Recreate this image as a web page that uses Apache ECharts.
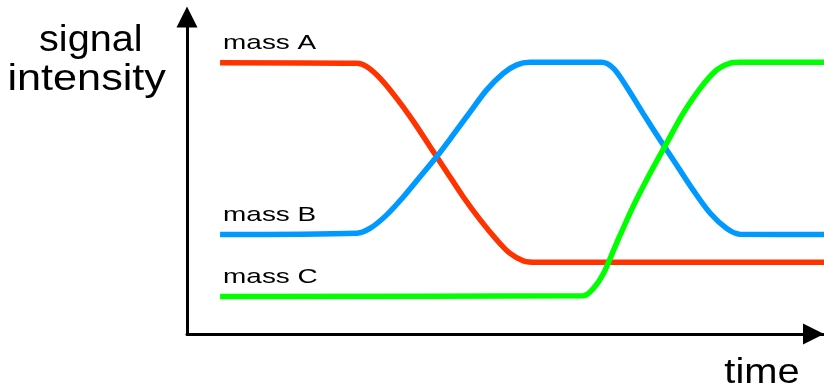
<!DOCTYPE html>
<html>
<head>
<meta charset="utf-8">
<title>signal intensity vs time</title>
<script src="https://cdn.jsdelivr.net/npm/echarts@6/dist/echarts.min.js"></script>
<style>
  html, body { margin: 0; padding: 0; background: #ffffff; }
  #chart { width: 824px; height: 389px; }
</style>
</head>
<body>
<div id="chart"></div>
<script>
// 数据：时间（任意单位）与信号强度（任意单位）
const massATime = [6.6, 33.9, 35.9, 38.5, 41.8, 45.2, 48.5, 51.8, 55.1, 58.5, 61.8, 64.4, 67.1, 69.8, 127.1];
const massAIntensity = [85.6, 85.4, 84.3, 80.7, 74.4, 67.0, 59.1, 51.2, 43.3, 36.0, 29.7, 25.5, 23.1, 22.6, 22.6];

const massBTime = [6.6, 33.9, 36.5, 39.8, 43.2, 46.5, 49.8, 53.1, 56.5, 59.8, 63.1, 65.8, 68.4,
  82.7, 85.1, 87.7, 91.0, 94.4, 97.7, 101.0, 104.4, 107.7, 110.3, 127.1];
const massBIntensity = [31.4, 31.8, 33.3, 37.5, 43.3, 49.6, 55.9, 62.8, 70.1, 77.0, 82.2, 84.9, 85.7,
  85.7, 83.8, 78.0, 69.6, 61.2, 53.3, 45.4, 38.1, 33.3, 31.5, 31.4];

const massCTime = [6.6, 79.1, 81.1, 83.1, 85.7, 89.0, 92.4, 95.7, 99.0, 102.4, 105.7, 108.3, 110.3, 127.1];
const massCIntensity = [11.8, 12.1, 14.4, 19.1, 28.6, 40.2, 50.7, 60.2, 69.6, 77.5, 83.3, 85.4, 85.7, 85.7];

const seriesNames = ['mass A', 'mass B', 'mass C'];
const seriesColors = ['#ff3300', '#0099ff', '#00ff00'];
const axisTitleY = ['signal', 'intensity'];
const axisTitleX = 'time';

const FONT = '"Liberation Sans", Arial, Helvetica, sans-serif';

function pairs(xs, ys) {
  return xs.map((x, i) => [x, ys[i]]);
}

const chart = echarts.init(document.getElementById('chart'), null, { renderer: 'canvas' });

const seriesData = [
  pairs(massATime, massAIntensity),
  pairs(massBTime, massBIntensity),
  pairs(massCTime, massCIntensity)
];

const option = {
  backgroundColor: '#ffffff',
  animation: false,
  grid: { left: 187, right: 0, top: 17, bottom: 55, containLabel: false },
  xAxis: {
    type: 'value',
    min: 0,
    max: 127.1,
    axisLine: {
      show: true,
      symbol: ['none', 'triangle'],
      symbolSize: [21, 21],
      symbolOffset: [0, -10.5],  // 箭头尖端落在画布右缘
      lineStyle: { color: '#000000', width: 3 }
    },
    axisTick: { show: false },
    axisLabel: { show: false },
    splitLine: { show: false }
  },
  yAxis: {
    type: 'value',
    min: 0,
    max: 100,
    axisLine: {
      show: true,
      symbol: ['none', 'triangle'],
      symbolSize: [21, 21],
      lineStyle: { color: '#000000', width: 3 }
    },
    axisTick: { show: false },
    axisLabel: { show: false },
    splitLine: { show: false }
  },
  series: seriesData.map((data, i) => ({
    name: seriesNames[i],
    type: 'line',
    data: data,
    smooth: 0.3,
    showSymbol: false,
    lineStyle: { color: seriesColors[i], width: 5.5, cap: 'butt' }
  }))
};

chart.setOption(option);

// 文字：原图文字横向被拉伸，用 scaleX 还原
const graphics = [];
seriesData.forEach((data, i) => {
  const p = chart.convertToPixel({ gridIndex: 0 }, data[0]);
  graphics.push({
    type: 'text',
    x: p[0] + 3,
    y: p[1] - 19.5,
    scaleX: 1.33,
    style: {
      text: seriesNames[i],
      fill: '#000000',
      font: '21px ' + FONT,
      align: 'left',
      verticalAlign: 'middle'
    }
  });
});

graphics.push({
  type: 'text', x: 90.8, y: 41.5, scaleX: 1.1,
  style: { text: axisTitleY[0], fill: '#000', font: '36px ' + FONT, align: 'center', verticalAlign: 'middle' }
});
graphics.push({
  type: 'text', x: 86.7, y: 80.2, scaleX: 1.2,
  style: { text: axisTitleY[1], fill: '#000', font: '36px ' + FONT, align: 'center', verticalAlign: 'middle' }
});
graphics.push({
  type: 'text', x: 762, y: 372.9, scaleX: 1.14,
  style: { text: axisTitleX, fill: '#000', font: '35px ' + FONT, align: 'center', verticalAlign: 'middle' }
});

chart.setOption({ graphic: graphics });
</script>
</body>
</html>
